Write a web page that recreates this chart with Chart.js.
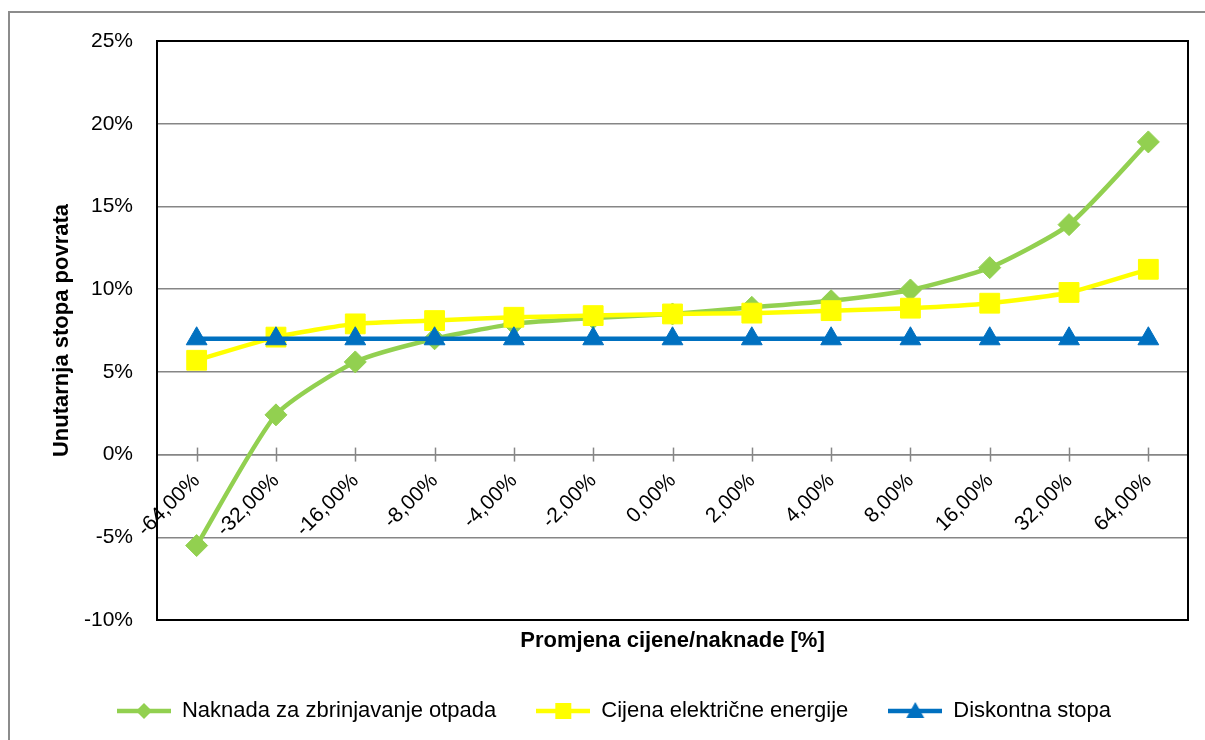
<!DOCTYPE html>
<html>
<head>
<meta charset="utf-8">
<script src="https://cdn.jsdelivr.net/npm/chart.js@4.4.1/dist/chart.umd.min.js"></script>
<style>
  html, body { margin: 0; padding: 0; background: #fff; overflow: hidden; }
  #frame { position: absolute; left: 8px; top: 11px; width: 1400px; height: 1000px;
           border-left: 2px solid #8c8c8c; border-top: 2px solid #8c8c8c; }
  #chart { position: absolute; left: 0; top: 0; }
</style>
</head>
<body>
<div id="frame"></div>
<canvas id="chart" width="1205" height="740"></canvas>
<script>
const categories = ['-64,00%', '-32,00%', '-16,00%', '-8,00%', '-4,00%', '-2,00%', '0,00%',
                    '2,00%', '4,00%', '8,00%', '16,00%', '32,00%', '64,00%'];
const naknada = [-5.5, 2.4, 5.6, 7.0, 7.9, 8.25, 8.5, 8.9, 9.3, 9.95, 11.3, 13.9, 18.9];
const cijena = [5.7, 7.1, 7.9, 8.1, 8.3, 8.4, 8.5, 8.55, 8.7, 8.85, 9.15, 9.8, 11.2];
const diskontna = [7, 7, 7, 7, 7, 7, 7, 7, 7, 7, 7, 7, 7];
const seriesNames = ['Naknada za zbrinjavanje otpada', 'Cijena električne energije', 'Diskontna stopa'];

const green = '#92d050';
const yellow = '#ffff00';
const blue = '#0070c0';
const gridColor = '#868686';
const fontFamily = "'Liberation Sans', Arial, sans-serif";

// legend icon: line with the marker in the middle
const legendIcon = (color, style) => {
    const c = document.createElement('canvas');
    c.width = 54; c.height = 22;
    const g = c.getContext('2d');
    g.strokeStyle = color; g.lineWidth = 4.5;
    g.beginPath(); g.moveTo(0, 11); g.lineTo(54, 11); g.stroke();
    g.fillStyle = color;
    g.beginPath();
    if (style === 'rectRot') { g.moveTo(27, 3); g.lineTo(35, 11); g.lineTo(27, 19); g.lineTo(19, 11); }
    else if (style === 'rect') { g.rect(19, 3, 16, 16); }
    else { g.moveTo(27, 2); g.lineTo(36, 18); g.lineTo(18, 18); }
    g.closePath(); g.fill();
    return c;
};
const icons = [legendIcon(green, 'rectRot'), legendIcon(yellow, 'rect'), legendIcon(blue, 'triangle')];

const plotFrame = {
    id: 'plotFrame',
    afterDraw(chart) {
        const {ctx, chartArea: a, scales} = chart;
        const y0 = scales.y.getPixelForValue(0);
        ctx.save();
        // tick marks crossing the zero axis
        ctx.strokeStyle = gridColor; ctx.lineWidth = 1.5;
        scales.x.ticks.forEach((t, i) => {
            const px = Math.round(scales.x.getPixelForTick(i)) + 0.5;
            ctx.beginPath(); ctx.moveTo(px, y0 - 7); ctx.lineTo(px, y0 + 7); ctx.stroke();
        });
        ctx.strokeStyle = '#000'; ctx.lineWidth = 2;
        ctx.strokeRect(a.left, a.top, a.right - a.left, a.bottom - a.top);
        ctx.restore();
    }
};

new Chart(document.getElementById('chart'), {
    type: 'line',
    data: {
        labels: categories,
        datasets: [
            {
                label: seriesNames[0], data: naknada, order: 2,
                borderColor: green, backgroundColor: green, borderWidth: 4.5,
                pointStyle: 'rectRot', pointRadius: 11, pointBorderWidth: 1,
                tension: 0.2
            },
            {
                label: seriesNames[1], data: cijena, order: 1,
                borderColor: yellow, backgroundColor: yellow, borderWidth: 4.5,
                pointStyle: 'rect', pointRadius: 14, pointBorderWidth: 1,
                tension: 0.2
            },
            {
                label: seriesNames[2], data: diskontna, order: 0,
                borderColor: blue, backgroundColor: blue, borderWidth: 4.5,
                pointStyle: 'triangle', pointRadius: 12, pointBorderWidth: 1
            }
        ]
    },
    options: {
        responsive: false,
        animation: false,
        layout: { padding: { left: 40, right: 17, top: 41, bottom: 8 } },
        plugins: {
            tooltip: { enabled: false },
            legend: {
                position: 'bottom',
                labels: {
                    color: '#000',
                    font: { family: fontFamily, size: 22 },
                    usePointStyle: true,
                    pointStyleWidth: 54,
                    padding: 40,
                    sort: (a, b) => a.datasetIndex - b.datasetIndex,
                    generateLabels: chart => Chart.defaults.plugins.legend.labels.generateLabels(chart)
                        .map(item => ({ ...item, pointStyle: icons[item.datasetIndex] }))
                }
            }
        },
        scales: {
            y: {
                min: -10, max: 25,
                afterFit: s => { s.width = 117; },
                ticks: {
                    stepSize: 5, color: '#000', padding: 24,
                    font: { family: fontFamily, size: 21 },
                    callback: v => v + '%'
                },
                grid: { color: gridColor, lineWidth: 1.5, drawTicks: false },
                border: { color: '#000', width: 2 },
                title: {
                    display: true, text: 'Unutarnja stopa povrata', color: '#000',
                    font: { family: fontFamily, size: 22, weight: 'bold' },
                    padding: { top: 9 }
                }
            },
            x: {
                position: { y: 0 },
                offset: true,
                ticks: {
                    color: '#000', autoSkip: false, minRotation: 45, maxRotation: 45, padding: 14,
                    font: { family: fontFamily, size: 21 }
                },
                grid: { drawOnChartArea: false, drawTicks: false },
                border: { color: gridColor, width: 1.5 }
            },
            x2: {
                type: 'category',
                position: 'bottom',
                afterFit: s => { s.height = 40; },
                ticks: { display: false },
                grid: { display: false },
                border: { display: false },
                title: {
                    display: true, text: 'Promjena cijene/naknade [%]', color: '#000',
                    font: { family: fontFamily, size: 22, weight: 'bold' },
                    padding: { bottom: 6 }
                }
            }
        }
    },
    plugins: [plotFrame]
});
</script>
</body>
</html>
